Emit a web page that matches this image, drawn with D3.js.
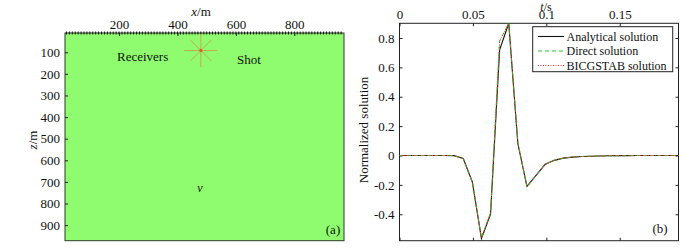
<!DOCTYPE html>
<html>
<head>
<meta charset="utf-8">
<script src="https://cdn.jsdelivr.net/npm/d3@7"></script>
<style>
  body { margin: 0; background: #fff; }
  svg { display: block; font-family: "Liberation Serif", "Times New Roman", serif; }
</style>
</head>
<body>
<svg id="chart" width="699" height="251"></svg>
<script>
// panel (a): model geometry
const xTicksA = [200, 400, 600, 800];
const zTicksA = [100, 200, 300, 400, 500, 600, 700, 800, 900];
const shot = { x: 480, z: 92 };
const receiverStart = 20, receiverEnd = 960, receiverStep = 10;

// panel (b): traces
const times = [0, 0.0062, 0.0124, 0.0186, 0.0248, 0.031, 0.0372, 0.0434, 0.0496, 0.0558, 0.062, 0.0682, 0.0744,
  0.0806, 0.0868, 0.093, 0.0992, 0.1054, 0.1116, 0.1178, 0.124, 0.1302, 0.1364, 0.1426, 0.1488, 0.155, 0.1612,
  0.1674, 0.1736, 0.1798, 0.186, 0.19];
const analytical = [0, 0, 0, 0, 0, 0, -0.001, -0.02, -0.18, -0.565, -0.40, 0.72, 0.90,
  0.08, -0.21, -0.135, -0.06, -0.033, -0.018, -0.011, -0.007, -0.005, -0.003, -0.002, -0.001, -0.001, 0,
  0, 0, 0, 0, 0];
const direct = [0, 0, 0, 0, 0, 0, -0.001, -0.02, -0.18, -0.56, -0.39, 0.78, 0.90,
  0.09, -0.215, -0.135, -0.06, -0.033, -0.018, -0.011, -0.007, -0.005, -0.003, -0.002, -0.001, -0.001, 0,
  0, 0, 0, 0, 0];
const bicgstab = [0, 0, 0, 0, 0, 0, -0.001, -0.02, -0.18, -0.56, -0.39, 0.78, 0.90,
  0.09, -0.215, -0.135, -0.06, -0.033, -0.018, -0.011, -0.007, -0.005, -0.003, -0.002, -0.001, -0.001, 0,
  0, 0, 0, 0, 0];
const xTicksB = [0, 0.05, 0.1, 0.15];
const yTicksB = [-0.4, -0.2, 0, 0.2, 0.4, 0.6, 0.8];
const seriesNames = ['Analytical solution', 'Direct solution', 'BICGSTAB solution'];

const svg = d3.select('#chart');
const fmt = d => String(d);

// ---------- panel (a)
const xA = d3.scaleLinear().domain([15, 970]).range([65, 344]);
const zA = d3.scaleLinear().domain([11, 972]).range([33, 240.7]);

const gA = svg.append('g');
gA.append('rect')
  .attr('x', xA.range()[0]).attr('y', zA.range()[0])
  .attr('width', xA.range()[1] - xA.range()[0])
  .attr('height', zA.range()[1] - zA.range()[0])
  .attr('fill', '#8ffc6f')
  .attr('stroke', '#2b3a2b').attr('stroke-width', 1);

// receivers along the surface
gA.selectAll('.rec')
  .data(d3.range(receiverStart, receiverEnd + 1, receiverStep))
  .enter().append('line')
  .attr('x1', d => xA(d)).attr('x2', d => xA(d))
  .attr('y1', zA.range()[0] - 1.5).attr('y2', zA.range()[0] + 1.5)
  .attr('stroke', '#111').attr('stroke-width', 1);

const axTopA = gA.append('g')
  .attr('transform', `translate(0,${zA.range()[0]})`)
  .call(d3.axisTop(xA).tickValues(xTicksA).tickSize(-3).tickPadding(4).tickFormat(fmt));
const axLeftA = gA.append('g')
  .attr('transform', `translate(${xA.range()[0]},0)`)
  .call(d3.axisLeft(zA).tickValues(zTicksA).tickSize(-3).tickPadding(5).tickFormat(fmt));
[axTopA, axLeftA].forEach(a => {
  a.select('.domain').remove();
  a.selectAll('line').attr('stroke', '#222');
  a.selectAll('text').attr('font-size', 13).attr('fill', '#111')
    .style('font-family', '"Liberation Serif", serif');
});

// shot star
const sx = xA(shot.x), sz = zA(shot.z);
d3.range(0, 8).forEach(i => {
  const a = i * Math.PI / 4;
  const r = i % 2 === 0 ? 16.5 : 15;
  gA.append('line')
    .attr('x1', sx).attr('y1', sz)
    .attr('x2', sx + r * Math.cos(a)).attr('y2', sz + r * Math.sin(a))
    .attr('stroke', '#c9a24e').attr('stroke-width', 0.9);
});
gA.append('circle').attr('cx', sx).attr('cy', sz).attr('r', 1.4).attr('fill', '#d9541e');

gA.append('text').attr('x', 117).attr('y', 61).attr('font-size', 13).attr('fill', '#111').text('Receivers');
gA.append('text').attr('x', 237).attr('y', 64).attr('font-size', 13).attr('fill', '#111').text('Shot');
gA.append('text').attr('x', 200).attr('y', 192).attr('font-size', 12).attr('font-style', 'italic')
  .attr('text-anchor', 'middle').attr('fill', '#111').text('v');
gA.append('text').attr('x', 333).attr('y', 234).attr('font-size', 13).attr('text-anchor', 'middle')
  .attr('fill', '#111').text('(a)');

const xlabA = gA.append('text').attr('x', 201).attr('y', 16).attr('font-size', 13)
  .attr('text-anchor', 'middle').attr('fill', '#111');
xlabA.append('tspan').attr('font-style', 'italic').text('x');
xlabA.append('tspan').text('/m');

const zlabA = gA.append('text').attr('transform', 'translate(37,140) rotate(-90)').attr('font-size', 13)
  .attr('text-anchor', 'middle').attr('fill', '#111');
zlabA.append('tspan').attr('font-style', 'italic').text('z');
zlabA.append('tspan').text('/m');

// ---------- panel (b)
const xB = d3.scaleLinear().domain([0, 0.19]).range([399.5, 678.5]);
const yB = d3.scaleLinear().domain([-0.58, 0.9]).range([240.7, 23.3]);

const gB = svg.append('g');
gB.append('rect')
  .attr('x', xB.range()[0]).attr('y', yB.range()[1])
  .attr('width', xB.range()[1] - xB.range()[0])
  .attr('height', yB.range()[0] - yB.range()[1])
  .attr('fill', '#fff').attr('stroke', '#222').attr('stroke-width', 1);

const axesB = [
  gB.append('g').attr('transform', `translate(0,${yB.range()[1]})`)
    .call(d3.axisTop(xB).tickValues(xTicksB).tickSize(-3).tickPadding(4).tickFormat(fmt)),
  gB.append('g').attr('transform', `translate(0,${yB.range()[0]})`)
    .call(d3.axisBottom(xB).tickValues(xTicksB).tickSize(-3).tickFormat('')),
  gB.append('g').attr('transform', `translate(${xB.range()[0]},0)`)
    .call(d3.axisLeft(yB).tickValues(yTicksB).tickSize(-3).tickPadding(5).tickFormat(fmt)),
  gB.append('g').attr('transform', `translate(${xB.range()[1]},0)`)
    .call(d3.axisRight(yB).tickValues(yTicksB).tickSize(-3).tickFormat(''))
];
axesB.forEach(a => {
  a.select('.domain').remove();
  a.selectAll('line').attr('stroke', '#222');
  a.selectAll('text').attr('font-size', 13).attr('fill', '#111')
    .style('font-family', '"Liberation Serif", serif');
});

const line = d3.line().x((d, i) => xB(times[i])).y(d => yB(d));
const styles = [
  { data: analytical, color: '#111', dash: null, width: 1.1 },
  { data: direct, color: '#22cc22', dash: '4,3', width: 1 },
  { data: bicgstab, color: '#ff3030', dash: '1,1.5', width: 1 }
];
styles.forEach(s => {
  gB.append('path').datum(s.data)
    .attr('d', line)
    .attr('fill', 'none')
    .attr('stroke', s.color)
    .attr('stroke-width', s.width)
    .attr('stroke-dasharray', s.dash);
});

// legend
const lg = gB.append('g');
lg.append('rect').attr('x', 532.7).attr('y', 26.7).attr('width', 140).attr('height', 45)
  .attr('fill', '#fff').attr('stroke', '#222').attr('stroke-width', 1);
seriesNames.forEach((name, i) => {
  const y = 36.5 + i * 14.5;
  lg.append('line').attr('x1', 538).attr('x2', 564).attr('y1', y).attr('y2', y)
    .attr('stroke', styles[i].color).attr('stroke-width', styles[i].width)
    .attr('stroke-dasharray', styles[i].dash);
  lg.append('text').attr('x', 566.5).attr('y', y + 4.2).attr('font-size', 12).attr('fill', '#111').text(name);
});

gB.append('text').attr('x', 660).attr('y', 233).attr('font-size', 13).attr('text-anchor', 'middle')
  .attr('fill', '#111').text('(b)');

const xlabB = gB.append('text').attr('x', 546).attr('y', 11).attr('font-size', 12)
  .attr('text-anchor', 'middle').attr('fill', '#111');
xlabB.append('tspan').attr('font-style', 'italic').text('t');
xlabB.append('tspan').text('/s');

gB.append('text').attr('transform', 'translate(368,130) rotate(-90)').attr('font-size', 13)
  .attr('text-anchor', 'middle').attr('fill', '#111').text('Normalized solution');
</script>
</body>
</html>
